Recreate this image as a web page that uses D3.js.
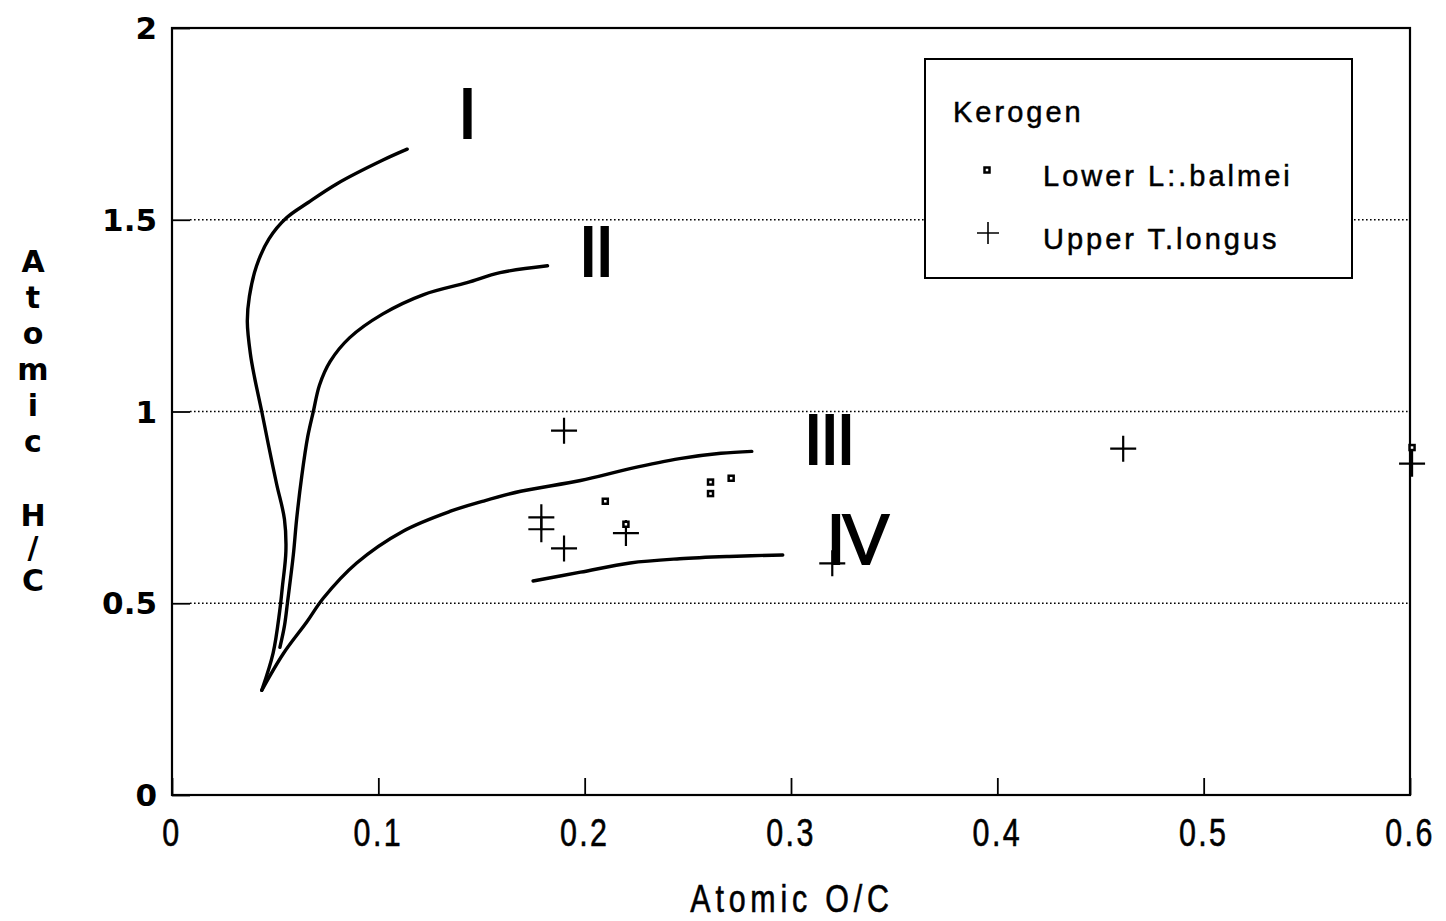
<!DOCTYPE html>
<html>
<head>
<meta charset="utf-8">
<script src="https://cdn.jsdelivr.net/npm/d3@7"></script>
<style>
  body { margin: 0; background: #fff; }
  svg { display: block; }
</style>
</head>
<body>
<svg id="chart" width="1446" height="921"></svg>
<script>
// evolution paths of the kerogen types (van Krevelen diagram)
var curveI = [[0.114,1.684],[0.102,1.655],[0.080,1.594],[0.066,1.545],[0.0555,1.505],[0.047,1.45],[0.041,1.38],[0.0375,1.30],[0.0365,1.234],[0.038,1.15],[0.040,1.089],[0.0435,1.0],[0.0467,0.914],[0.0507,0.811],[0.0545,0.719],[0.0552,0.636],[0.0535,0.543],[0.0522,0.480],[0.049,0.37],[0.0435,0.273]];
var curveII = [[0.182,1.380],[0.159,1.362],[0.143,1.336],[0.122,1.305],[0.102,1.254],[0.086,1.192],[0.0766,1.130],[0.0715,1.069],[0.0685,1.0],[0.0658,0.935],[0.0629,0.832],[0.0604,0.719],[0.0588,0.626],[0.0560,0.503],[0.0545,0.441],[0.0523,0.385]];
var curveIII = [[0.0435,0.273],[0.054,0.369],[0.0653,0.451],[0.0733,0.513],[0.0895,0.605],[0.112,0.688],[0.135,0.740],[0.150,0.765],[0.169,0.792],[0.198,0.820],[0.222,0.851],[0.246,0.877],[0.266,0.891],[0.281,0.896]];
var curveIV = [[0.175,0.558],[0.198,0.581],[0.222,0.605],[0.246,0.616],[0.270,0.622],[0.296,0.626]];

var curveNames = ["I", "II", "III", "IV"];
var curveLabelPos = [[0.1425, 1.778], [0.205, 1.419], [0.318, 0.93], [0.3316, 0.667]];

// samples
var lowerOC = [0.21, 0.22, 0.261, 0.261, 0.271, 0.601];
var lowerHC = [0.766, 0.706, 0.816, 0.786, 0.826, 0.906];
var upperOC = [0.19, 0.179, 0.179, 0.19, 0.22, 0.32, 0.461, 0.601];
var upperHC = [0.95, 0.724, 0.693, 0.643, 0.683, 0.604, 0.903, 0.864];

var xTicks = [0, 0.1, 0.2, 0.3, 0.4, 0.5, 0.6];
var yTicks = [0, 0.5, 1, 1.5, 2];
var legendTitle = "Kerogen";
var seriesNames = ["Lower L:.balmei", "Upper T.longus"];

var plotLeft = 172, plotRight = 1410, plotTop = 28, plotBottom = 795;

var x = d3.scaleLinear().domain([0, 0.6]).range([plotLeft, plotRight]);
var y = d3.scaleLinear().domain([0, 2]).range([plotBottom, plotTop]);

var svg = d3.select("#chart");

// dotted grid lines
svg.append("g").selectAll("line")
  .data(yTicks.filter(function(d) { return d > 0 && d < 2; }))
  .enter().append("line")
  .attr("x1", plotLeft + 18).attr("x2", plotRight)
  .attr("y1", function(d) { return y(d); })
  .attr("y2", function(d) { return y(d); })
  .attr("stroke", "#000")
  .attr("stroke-width", 1.6)
  .attr("stroke-dasharray", "1.6,2.4");

// y axis (ticks pointing inward)
var yAxis = d3.axisRight(y).tickValues(yTicks).tickSize(18).tickFormat("");
svg.append("g").attr("transform", "translate(" + plotLeft + ",0)").call(yAxis)
  .call(function(g) {
    g.select(".domain").remove();
    g.selectAll(".tick line").attr("stroke-width", 1.8);
  });

svg.append("g").selectAll("text")
  .data(yTicks).enter().append("text")
  .attr("x", plotLeft - 15)
  .attr("y", function(d) { return y(d); })
  .attr("dy", "0.36em")
  .attr("text-anchor", "end")
  .style("font-family", "'DejaVu Sans', sans-serif")
  .style("font-weight", "bold")
  .style("font-size", "31px")
  .text(function(d) { return d; });

// x axis (ticks pointing up)
var xAxis = d3.axisTop(x).tickValues(xTicks).tickSize(17).tickFormat("");
svg.append("g").attr("transform", "translate(0," + plotBottom + ")").call(xAxis)
  .call(function(g) {
    g.select(".domain").remove();
    g.selectAll(".tick line").attr("stroke-width", 1.8);
  });

svg.append("g").selectAll("text")
  .data(xTicks).enter().append("text")
  .attr("transform", function(d) { return "translate(" + x(d) + ",846) scale(0.8,1)"; })
  .attr("text-anchor", "middle")
  .style("font-family", "'Liberation Sans', Arial, sans-serif")
  .style("font-size", "38px")
  .style("letter-spacing", "3px")
  .style("stroke", "#000").style("stroke-width", "0.6px")
  .text(function(d) { return d; });

// frame
svg.append("rect")
  .attr("x", plotLeft).attr("y", plotTop)
  .attr("width", plotRight - plotLeft).attr("height", plotBottom - plotTop)
  .attr("fill", "none").attr("stroke", "#000").attr("stroke-width", 2.2);

// axis titles
svg.append("text")
  .attr("transform", "translate(792,912) scale(0.8,1)")
  .attr("text-anchor", "middle")
  .style("font-family", "'Liberation Sans', Arial, sans-serif")
  .style("font-size", "38px")
  .style("letter-spacing", "6px")
  .style("stroke", "#000").style("stroke-width", "0.6px")
  .text("Atomic O/C");

var yTitle = ["A", "t", "o", "m", "i", "c", "", "H", "/", "C"];
var yTitlePos = [261, 297, 333, 369, 405, 441, 0, 515, 547, 580];
svg.append("g").selectAll("text")
  .data(yTitle).enter().append("text")
  .attr("x", 33)
  .attr("y", function(d, i) { return yTitlePos[i]; })
  .attr("dy", "0.36em")
  .attr("text-anchor", "middle")
  .style("font-family", "'DejaVu Sans', sans-serif")
  .style("font-weight", "bold")
  .style("font-size", "30px")
  .text(function(d) { return d; });

// kerogen type paths
var line = d3.line()
  .x(function(d) { return x(d[0]); })
  .y(function(d) { return y(d[1]); })
  .curve(d3.curveCatmullRom.alpha(0.5));

svg.append("g").selectAll("path")
  .data([curveI, curveII, curveIII, curveIV])
  .enter().append("path")
  .attr("d", line)
  .attr("fill", "none")
  .attr("stroke", "#000")
  .attr("stroke-width", 3.4)
  .attr("stroke-linecap", "round");

svg.append("g").selectAll("text")
  .data(curveNames).enter().append("text")
  .attr("x", function(d, i) { return x(curveLabelPos[i][0]); })
  .attr("y", function(d, i) { return y(curveLabelPos[i][1]); })
  .attr("dy", "0.36em")
  .attr("text-anchor", "middle")
  .style("font-family", "'Liberation Sans', Arial, sans-serif")
  .style("font-size", "70px")
  .style("letter-spacing", "-3px")
  .style("stroke", "#000").style("stroke-width", "1.8px")
  .text(function(d) { return d; });

// markers
function crossPath(s) {
  return "M" + (-s) + ",0H" + s + "M0," + (-s) + "V" + s;
}

svg.append("g").selectAll("path")
  .data(d3.range(upperOC.length)).enter().append("path")
  .attr("transform", function(i) { return "translate(" + x(upperOC[i]) + "," + y(upperHC[i]) + ")"; })
  .attr("d", crossPath(13))
  .attr("stroke", "#000")
  .attr("stroke-width", 2.2);

svg.append("g").selectAll("rect")
  .data(d3.range(lowerOC.length)).enter().append("rect")
  .attr("x", function(i) { return x(lowerOC[i]) - 2.5; })
  .attr("y", function(i) { return y(lowerHC[i]) - 2.5; })
  .attr("width", 5).attr("height", 5)
  .attr("fill", "#fff")
  .attr("stroke", "#000")
  .attr("stroke-width", 2.5);

// legend
var lg = svg.append("g");
lg.append("rect")
  .attr("x", 925).attr("y", 59).attr("width", 427).attr("height", 219)
  .attr("fill", "#fff").attr("stroke", "#000").attr("stroke-width", 2);

var legendFont = function(sel) {
  sel.style("font-family", "'Liberation Sans', Arial, sans-serif")
    .style("font-size", "29px")
    .style("letter-spacing", "3px")
    .style("stroke", "#000").style("stroke-width", "0.5px");
};
lg.append("text").attr("x", 953).attr("y", 122).call(legendFont).text(legendTitle);
lg.append("rect").attr("x", 984.5).attr("y", 167.5).attr("width", 5).attr("height", 5)
  .attr("fill", "#fff").attr("stroke", "#000").attr("stroke-width", 2.5);
lg.append("path").attr("transform", "translate(988,233)").attr("d", crossPath(11))
  .attr("stroke", "#000").attr("stroke-width", 1.6);
lg.selectAll("text.series")
  .data(seriesNames).enter().append("text")
  .attr("class", "series")
  .attr("x", 1043)
  .attr("y", function(d, i) { return 186 + i * 63; })
  .call(legendFont)
  .text(function(d) { return d; });
</script>
</body>
</html>
